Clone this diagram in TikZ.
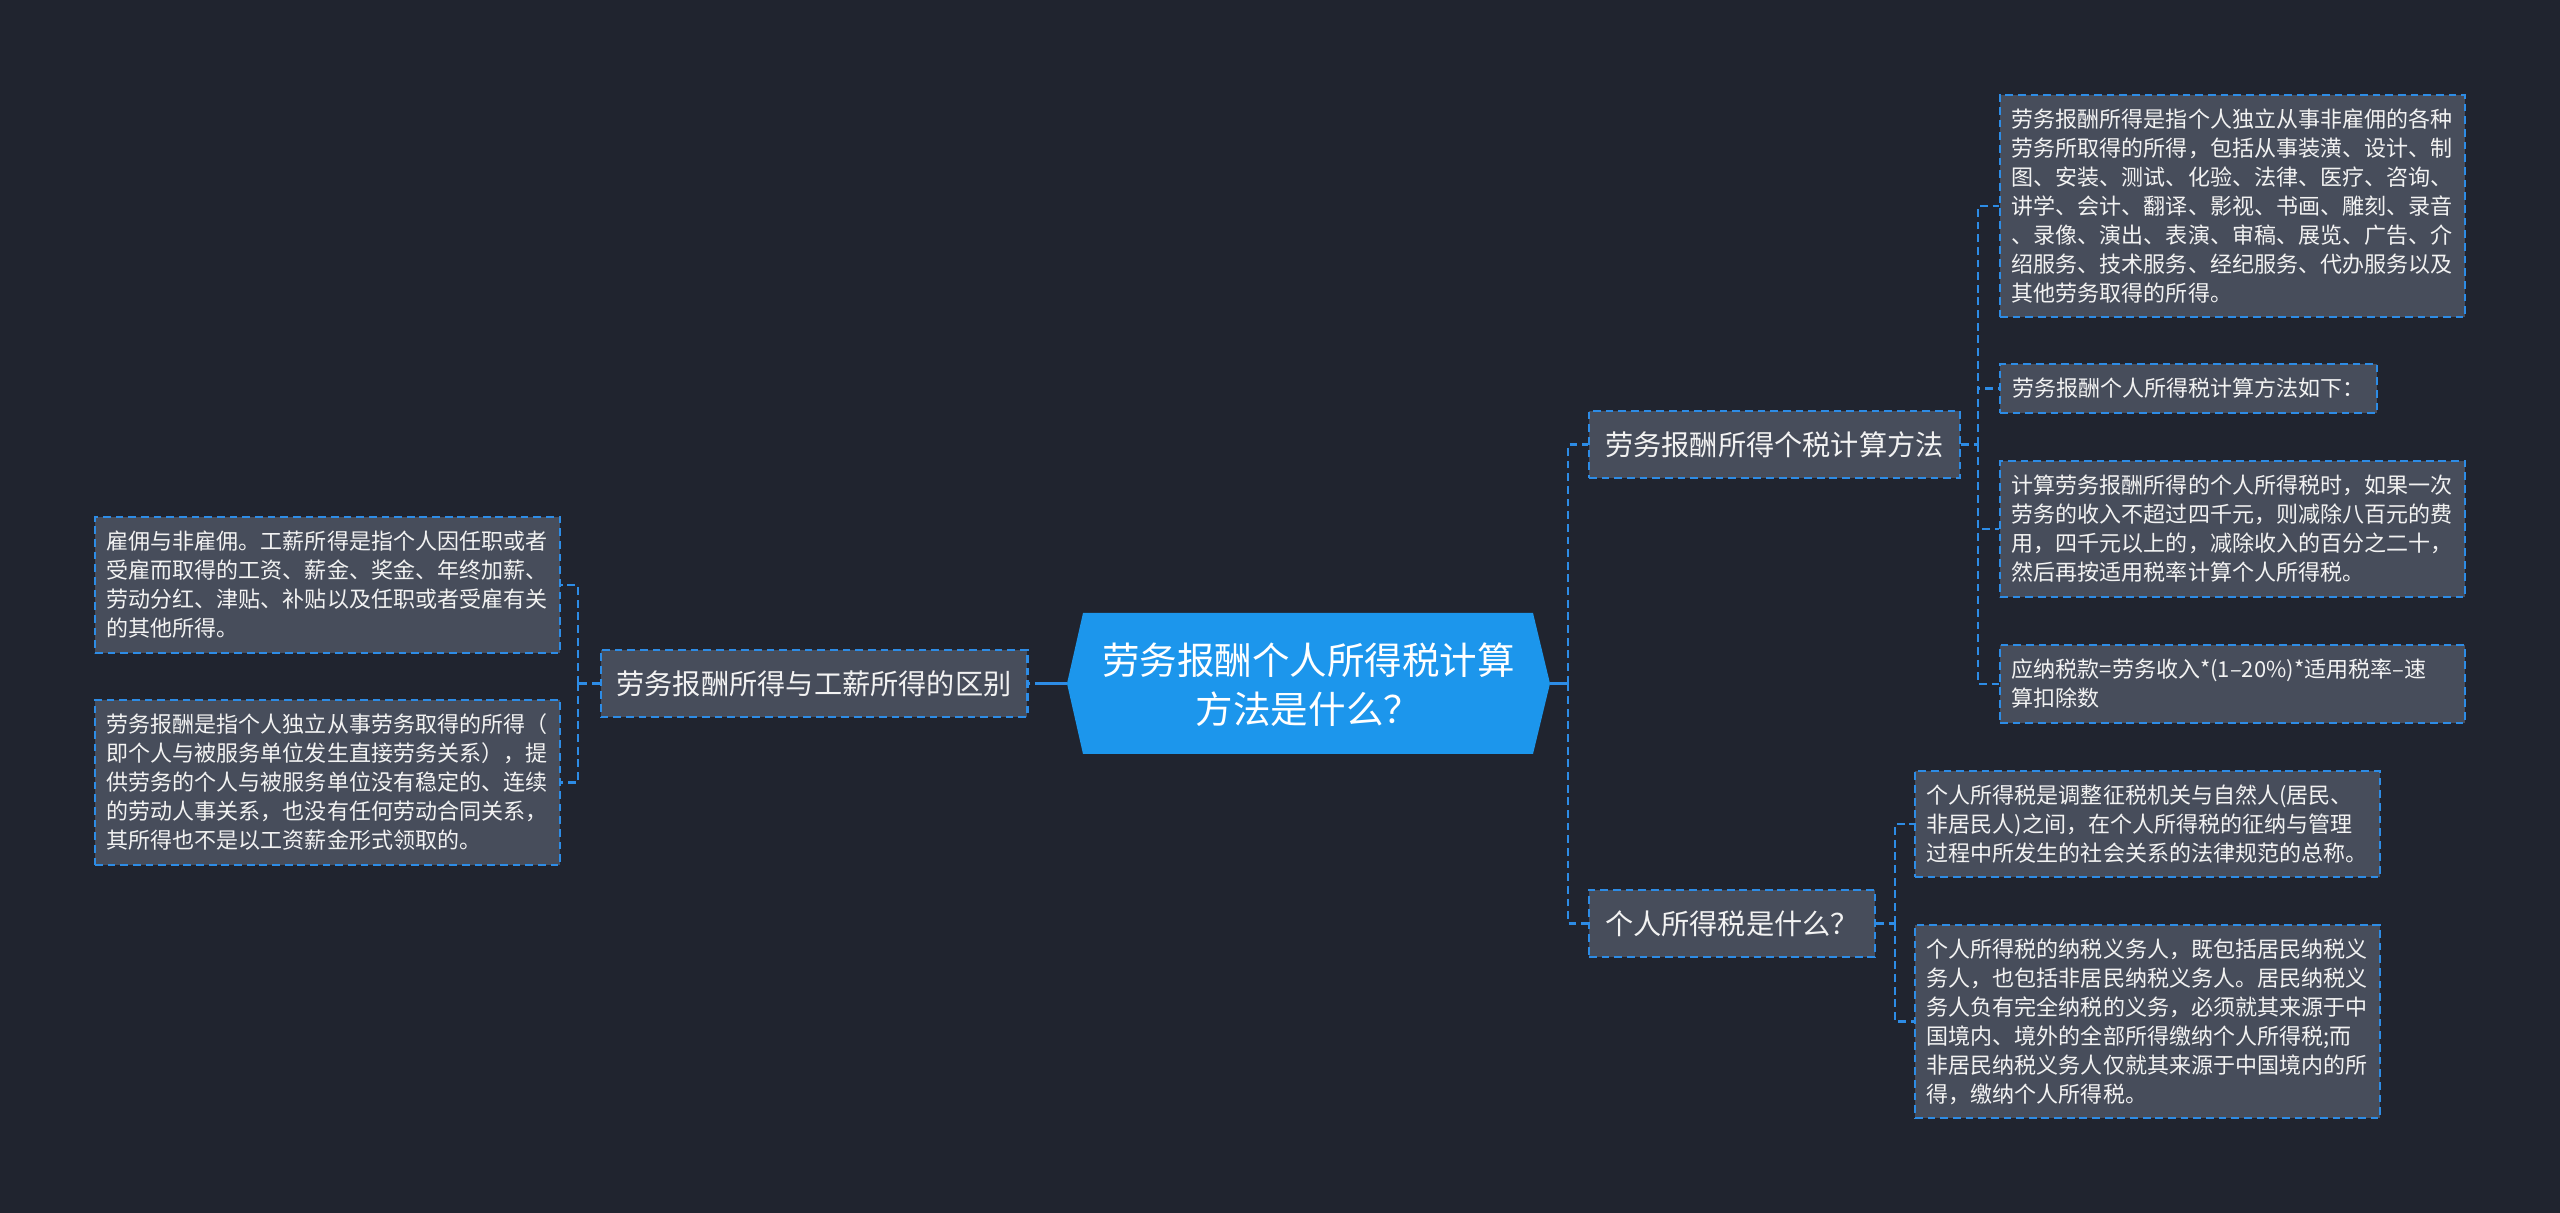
\documentclass[tikz,border=0pt]{standalone}
\usepackage{fontspec}
\setmainfont{Noto Sans CJK SC}
\definecolor{bgc}{HTML}{20242F}
\definecolor{boxc}{HTML}{474D5B}
\definecolor{lineblue}{HTML}{2D8CE6}
\definecolor{rootc}{HTML}{1C96EC}
\definecolor{textc}{HTML}{F2F2F2}
\newcommand\leaffont{\fontsize{6.26pt}{8.25pt}\selectfont}
\newcommand\branchfont{\fontsize{8.02pt}{9.6pt}\selectfont}
\newcommand\rootfont{\fontsize{10.67pt}{13.94pt}\selectfont}
\begin{document}
\begin{tikzpicture}[x=0.01cm,y=-0.01cm,
  dashline/.style={line width=0.6pt, dash pattern=on 2.2pt off 1.4pt},
  leaf/.style={draw=lineblue, dashline, fill=boxc, text=textc, font=\leaffont,
    align=left, inner xsep=0.12cm, inner ysep=0pt, anchor=center},
  wideleaf/.style={leaf, text width=4.41cm, minimum width=4.65cm},
  branch/.style={draw=lineblue, dashline, fill=boxc, text=textc, font=\branchfont,
    inner xsep=0.16cm, inner ysep=0pt, minimum height=0.67cm, anchor=center},
  conn/.style={draw=lineblue, dashline},
  rootlink/.style={draw=lineblue, line width=0.9pt}]
\useasboundingbox (0,0) rectangle (2560,1213);
\fill[bgc] (0,0) rectangle (2560,1213);

% root
\fill[rootc] (1067,683.5) -- (1083,613) -- (1533,613) -- (1550,683.5) -- (1533,754) -- (1083,754) -- cycle;
\node[text=white, font=\rootfont, align=center, inner sep=0pt] (root) at (1308.5,685) {劳务报酬个人所得税计算\\方法是什么？};
\coordinate (rootW) at (1067,683.5);
\coordinate (rootE) at (1550,683.5);

% branches
\node[branch, minimum width=4.26cm] (bl) at (814,683.5) {劳务报酬所得与工薪所得的区别};
\node[branch, minimum width=3.71cm] (br1) at (1774.5,444.5) {劳务报酬所得个税计算方法};
\node[branch, minimum width=2.86cm] (br2) at (1732,923.5) {个人所得税是什么？};

% left leaves
\node[wideleaf, minimum height=1.36cm] (l1) at (327.5,585) {雇佣与非雇佣。工薪所得是指个人因任职或者\\受雇而取得的工资、薪金、奖金、年终加薪、\\劳动分红、津贴、补贴以及任职或者受雇有关\\的其他所得。};
\node[wideleaf, minimum height=1.65cm] (l2) at (327.5,782.5) {劳务报酬是指个人独立从事劳务取得的所得（\\即个人与被服务单位发生直接劳务关系），提\\供劳务的个人与被服务单位没有稳定的、连续\\的劳动人事关系，也没有任何劳动合同关系，\\其所得也不是以工资薪金形式领取的。};

% right leaves of branch 1
\node[wideleaf, minimum height=2.22cm] (a) at (2232.5,206) {劳务报酬所得是指个人独立从事非雇佣的各种\\劳务所取得的所得，包括从事装潢、设计、制\\图、安装、测试、化验、法律、医疗、咨询、\\讲学、会计、翻译、影视、书画、雕刻、录音\\、录像、演出、表演、审稿、展览、广告、介\\绍服务、技术服务、经纪服务、代办服务以及\\其他劳务取得的所得。};
\node[leaf, minimum width=3.77cm, minimum height=0.49cm] (b) at (2188.5,388.5) {劳务报酬个人所得税计算方法如下：};
\node[wideleaf, minimum height=1.36cm] (c) at (2232.5,529) {计算劳务报酬所得的个人所得税时，如果一次\\劳务的收入不超过四千元，则减除八百元的费\\用，四千元以上的，减除收入的百分之二十，\\然后再按适用税率计算个人所得税。};
\node[wideleaf, minimum height=0.78cm] (d) at (2232.5,684) {应纳税款=劳务收入*(1–20\%)*适用税率–速\\算扣除数};

% right leaves of branch 2
\node[wideleaf, minimum height=1.06cm] (e) at (2147.5,824) {个人所得税是调整征税机关与自然人(居民、\\非居民人)之间，在个人所得税的征纳与管理\\过程中所发生的社会关系的法律规范的总称。};
\node[wideleaf, minimum height=1.93cm] (f) at (2147.5,1021.5) {个人所得税的纳税义务人，既包括居民纳税义\\务人，也包括非居民纳税义务人。居民纳税义\\务人负有完全纳税的义务，必须就其来源于中\\国境内、境外的全部所得缴纳个人所得税;而\\非居民纳税义务人仅就其来源于中国境内的所\\得，缴纳个人所得税。};

% connectors
\coordinate (busR) at (1568,683.5);
\coordinate (busL0) at (1043,683.5);
\coordinate (busL) at (578,683.5);
\coordinate (busR1) at (1978,444.5);
\coordinate (busR2) at (1895,923.5);

\draw[rootlink] (rootE) -- (busR);
\draw[conn] (busR) |- (br1.west);
\draw[conn] (busR) |- (br2.west);
\draw[rootlink] (rootW) -- (busL0);
\draw[conn] (busL0) -- (bl.east);

\draw[conn] (bl.west) -- (busL);
\draw[conn] (busL) |- (l1.east);
\draw[conn] (busL) |- (l2.east);

\draw[conn] (br1.east) -- (busR1);
\draw[conn] (busR1) |- (a.west);
\draw[conn] (busR1) |- (b.west);
\draw[conn] (busR1) |- (c.west);
\draw[conn] (busR1) |- (d.west);

\draw[conn] (br2.east) -- (busR2);
\draw[conn] (busR2) |- (e.west);
\draw[conn] (busR2) |- (f.west);
\end{tikzpicture}
\end{document}
